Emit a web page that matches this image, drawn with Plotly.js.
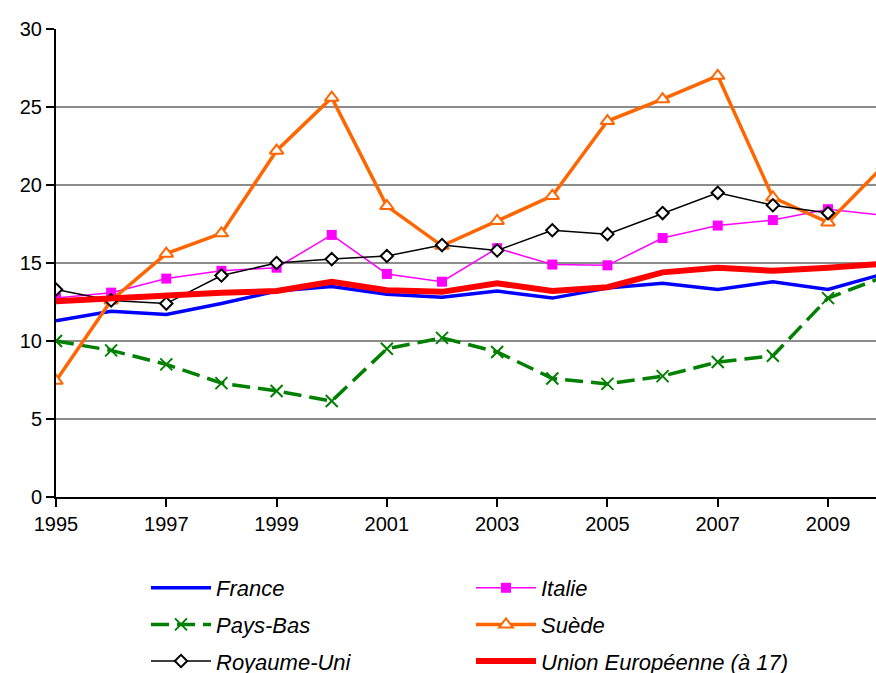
<!DOCTYPE html>
<html>
<head>
<meta charset="utf-8">
<script src="https://cdn.plot.ly/plotly-3.0.1.min.js"></script>
<style>html,body{margin:0;padding:0;background:#fff;}#chart{width:876px;height:673px;}</style>
</head>
<body>
<div id="chart"></div>
<script>
const years = [1995,1996,1997,1998,1999,2000,2001,2002,2003,2004,2005,2006,2007,2008,2009,2010];
const france = [11.3,11.9,11.7,12.4,13.2,13.5,13.0,12.8,13.2,12.75,13.4,13.7,13.3,13.8,13.3,14.3];
const italie = [12.75,13.1,14.0,14.5,14.7,16.8,14.3,13.8,15.95,14.9,14.85,16.6,17.4,17.75,18.45,18.05];
const paysBas = [10.0,9.4,8.5,7.3,6.8,6.15,9.5,10.2,9.3,7.6,7.25,7.75,8.65,9.05,12.75,14.1];
const suede = [7.45,12.6,15.6,16.9,22.2,25.6,18.65,16.1,17.7,19.3,24.1,25.5,27.0,19.2,17.6,21.2];
const royaumeUni = [13.3,12.6,12.4,14.2,15.0,15.25,15.45,16.15,15.8,17.1,16.85,18.2,19.5,18.7,18.2,null];
const ue = [12.55,12.75,12.95,13.1,13.2,13.8,13.25,13.15,13.7,13.2,13.45,14.4,14.7,14.5,14.7,14.95];
const xTicks = [1995,1997,1999,2001,2003,2005,2007,2009];
const yTicks = [0,5,10,15,20,25,30];

const FONT = 'Liberation Sans, Arial, sans-serif';

const traces = [
  {name:'France', x:years, y:france, mode:'lines', line:{color:'#0000FF', width:3.5}, legend:'legend', legendgroup:'a'},
  {name:'Italie', x:years, y:italie, mode:'lines+markers', line:{color:'#FF00FF', width:1.5},
   marker:{symbol:'square', size:10, color:'#FF00FF'}, legend:'legend2', legendgroup:'b'},
  {name:'Pays-Bas', x:years, y:paysBas, mode:'lines+markers', line:{color:'#008000', width:3.5, dash:'18px,8px'},
   marker:{symbol:'x-thin-open', size:12, line:{color:'#008000', width:2}}, legend:'legend', legendgroup:'c'},
  {name:'Suède', x:years, y:suede, mode:'lines+markers', line:{color:'#FF6600', width:3.5},
   marker:{symbol:'triangle-up', size:12, color:'#FFFFFF', line:{color:'#FF6600', width:2}}, legend:'legend2', legendgroup:'d'},
  {name:'Royaume-Uni', x:years, y:royaumeUni, mode:'lines+markers', line:{color:'#000000', width:1.5},
   marker:{symbol:'diamond', size:9.5, color:'#FFFFFF', line:{color:'#000000', width:2}}, legend:'legend', legendgroup:'e'},
  {name:'Union Européenne (à 17)', x:years, y:ue, mode:'lines', line:{color:'#FF0000', width:6}, legend:'legend2', legendgroup:'f'}
];

const legendBase = {
  xref:'container', yref:'container', xanchor:'left', yanchor:'top',
  orientation:'v', bgcolor:'rgba(0,0,0,0)', borderwidth:0,
  font:{family:FONT, size:22, color:'#000', style:'italic'},
  tracegroupgap:5, itemwidth:60, traceorder:'grouped'
};

const layout = {
  width:876, height:673,
  margin:{l:56, r:0, t:29, b:176, pad:0, autoexpand:false},
  paper_bgcolor:'#fff', plot_bgcolor:'#fff',
  font:{family:FONT, size:20, color:'#000'},
  showlegend:true,
  xaxis:{
    range:[1995, 2009.87], tickmode:'array', tickvals:xTicks, ticktext:xTicks.map(String),
    showgrid:false, zeroline:false, showline:true, linecolor:'#000', linewidth:2,
    ticks:'outside', ticklen:8, tickwidth:2, tickcolor:'#000', tickangle:0, automargin:false,
    tickfont:{family:FONT, size:20, color:'#000'}
  },
  yaxis:{
    range:[0,30], tickmode:'array', tickvals:yTicks, ticktext:yTicks.map(String),
    showgrid:true, gridcolor:'#8C8C8C', gridwidth:2, zeroline:false,
    showline:true, linecolor:'#000', linewidth:2, automargin:false,
    ticks:'outside', ticklen:8, tickwidth:2, tickcolor:'#000',
    tickfont:{family:FONT, size:20, color:'#000'}
  },
  legend:Object.assign({}, legendBase, {x:146/876, y:1-567/673}),
  legend2:Object.assign({}, legendBase, {x:471/876, y:1-567/673})
};

Plotly.newPlot('chart', traces, layout, {displayModeBar:false, staticPlot:true});
</script>
</body>
</html>
